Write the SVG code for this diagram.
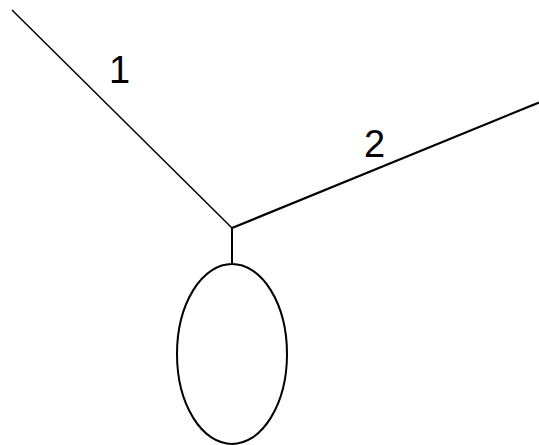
<svg xmlns="http://www.w3.org/2000/svg" width="539" height="445" viewBox="0 0 539 445">
<style>
.ln{stroke:#000;fill:none;stroke-linecap:butt}
.lbl{font-family:"Liberation Sans",Arial,sans-serif;font-size:38px;fill:#000}
</style>
<rect width="539" height="445" fill="#fff"/>
<g id="connectors">
<line class="ln" x1="12" y1="10" x2="232" y2="228" stroke-width="1.5"/>
<line class="ln" x1="232" y1="228" x2="539" y2="102.5" stroke-width="2.2"/>
<line class="ln" x1="232" y1="228" x2="232" y2="264" stroke-width="2"/>
</g>
<g id="node-ellipse">
<ellipse class="ln" cx="232" cy="354" rx="55" ry="90" stroke-width="2"/>
</g>
<g id="label-1"><text class="lbl" x="109" y="83">1</text></g>
<g id="label-2"><text class="lbl" x="364" y="156.5">2</text></g>
</svg>
